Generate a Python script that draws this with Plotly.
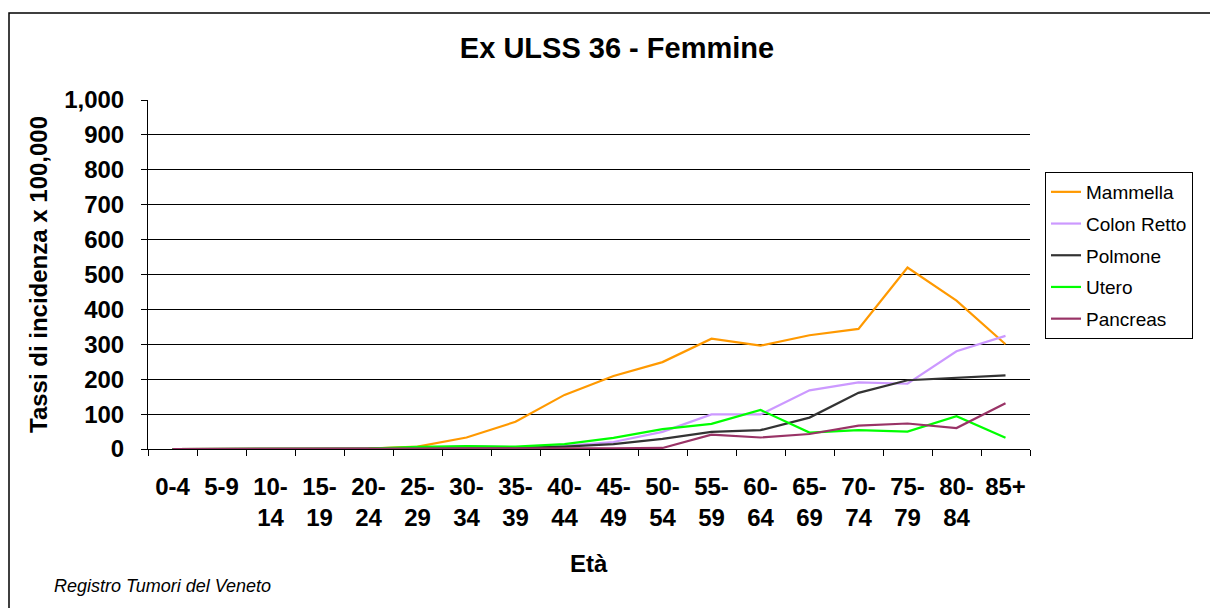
import plotly.graph_objects as go

eta = ["0-4", "5-9", "10-<br>14", "15-<br>19", "20-<br>24", "25-<br>29", "30-<br>34",
       "35-<br>39", "40-<br>44", "45-<br>49", "50-<br>54", "55-<br>59", "60-<br>64",
       "65-<br>69", "70-<br>74", "75-<br>79", "80-<br>84", "85+"]

mammella = [0, 0, 0, 0, 1, 7, 33, 78, 155, 209, 249, 316, 296, 326, 344, 520, 425, 300]
colon_retto = [0, 0, 0, 0, 0, 1, 8, 5, 9, 20, 49, 99, 99, 168, 191, 187, 280, 324]
polmone = [0, 0, 0, 0, 0, 1, 2, 3, 7, 14, 29, 49, 54, 90, 161, 197, 204, 211]
utero = [0, 0, 0, 0, 1, 6, 8, 7, 14, 32, 57, 72, 112, 47, 54, 50, 94, 32]
pancreas = [0, 0, 0, 0, 0, 0, 0, 0, 1, 2, 3, 41, 33, 43, 67, 73, 60, 131]

series = [
    ("Mammella", mammella, "#FF9900"),
    ("Colon Retto", colon_retto, "#CC99FF"),
    ("Polmone", polmone, "#333333"),
    ("Utero", utero, "#00FF00"),
    ("Pancreas", pancreas, "#993366"),
]

FONT = "Liberation Sans, Arial, sans-serif"

fig = go.Figure()
for name, vals, col in series:
    fig.add_trace(go.Scatter(
        x=eta, y=vals, name=name, mode="lines", legendgroup=name,
        line=dict(color=col, width=2.2),
    ))

# page has an 8px body margin: figure starts at screen (8, 8)
OFF = 8
W, H = 1218 - OFF, 608 - OFF
# plot area in screen pixels
L, R, T, B = 148, 1030, 100, 449

def px(xs):
    return (xs - L) / (R - L)

def py(ys):
    return (B - ys) / (B - T)

fig.update_layout(
    width=W, height=H,
    margin=dict(l=L - OFF, r=W - (R - OFF), t=T - OFF, b=H - (B - OFF), pad=0),
    paper_bgcolor="white", plot_bgcolor="white",
    font=dict(family=FONT, color="black"),
    showlegend=True,
    legend=dict(
        x=px(1045), y=py(172), xanchor="left", yanchor="top",
        bordercolor="black", borderwidth=1, bgcolor="white",
        font=dict(size=19, family=FONT, color="black"),
        tracegroupgap=4, traceorder="grouped",
        entrywidth=128, entrywidthmode="pixels",
    ),
    title=dict(
        text="<b>Ex ULSS 36 - Femmine</b>",
        x=px(617), xref="paper", xanchor="center",
        y=1 - (48 - OFF) / H, yref="container", yanchor="middle",
        font=dict(size=29, family=FONT, color="black"),
    ),
    xaxis=dict(
        type="category", tickson="boundaries", ticks="outside", ticklen=6,
        tickcolor="black", showline=True, linecolor="black", linewidth=1,
        showgrid=False, tickfont=dict(size=24, family=FONT, color="black"),
        tickprefix="<b>", ticksuffix="</b>", ticklabelstandoff=16,
        tickangle=0, range=[-0.5, 17.5], fixedrange=True,
    ),
    yaxis=dict(
        range=[0, 1000], dtick=100, tickformat=",", ticks="outside", ticklen=6,
        tickcolor="black", showline=True, linecolor="black", linewidth=1,
        showgrid=True, gridcolor="black", gridwidth=1, zeroline=False,
        tickfont=dict(size=24, family=FONT, color="black"),
        tickprefix="<b>", ticksuffix="</b>", ticklabelstandoff=12,
    ),
)

fig.add_annotation(
    text="<b>Tassi di incidenza x 100,000</b>", textangle=-90,
    x=px(38), y=py(275), xref="paper", yref="paper",
    xanchor="center", yanchor="middle", showarrow=False,
    font=dict(size=24, family=FONT, color="black"),
)
fig.add_annotation(
    text="<b>Età</b>", x=0.5, y=py(563), xref="paper", yref="paper",
    xanchor="center", yanchor="middle", showarrow=False,
    font=dict(size=24, family=FONT, color="black"),
)
fig.add_annotation(
    text="<i>Registro Tumori del Veneto</i>", x=px(52), y=py(586),
    xref="paper", yref="paper", xanchor="left", yanchor="middle",
    showarrow=False, font=dict(size=18, family=FONT, color="black"),
)

fig.add_shape(
    type="rect", xref="paper", yref="paper",
    x0=px(9), x1=px(1225), y0=py(625), y1=py(13),
    line=dict(color="black", width=1.5), fillcolor="rgba(0,0,0,0)", layer="below",
)

fig.write_html("out.html")
